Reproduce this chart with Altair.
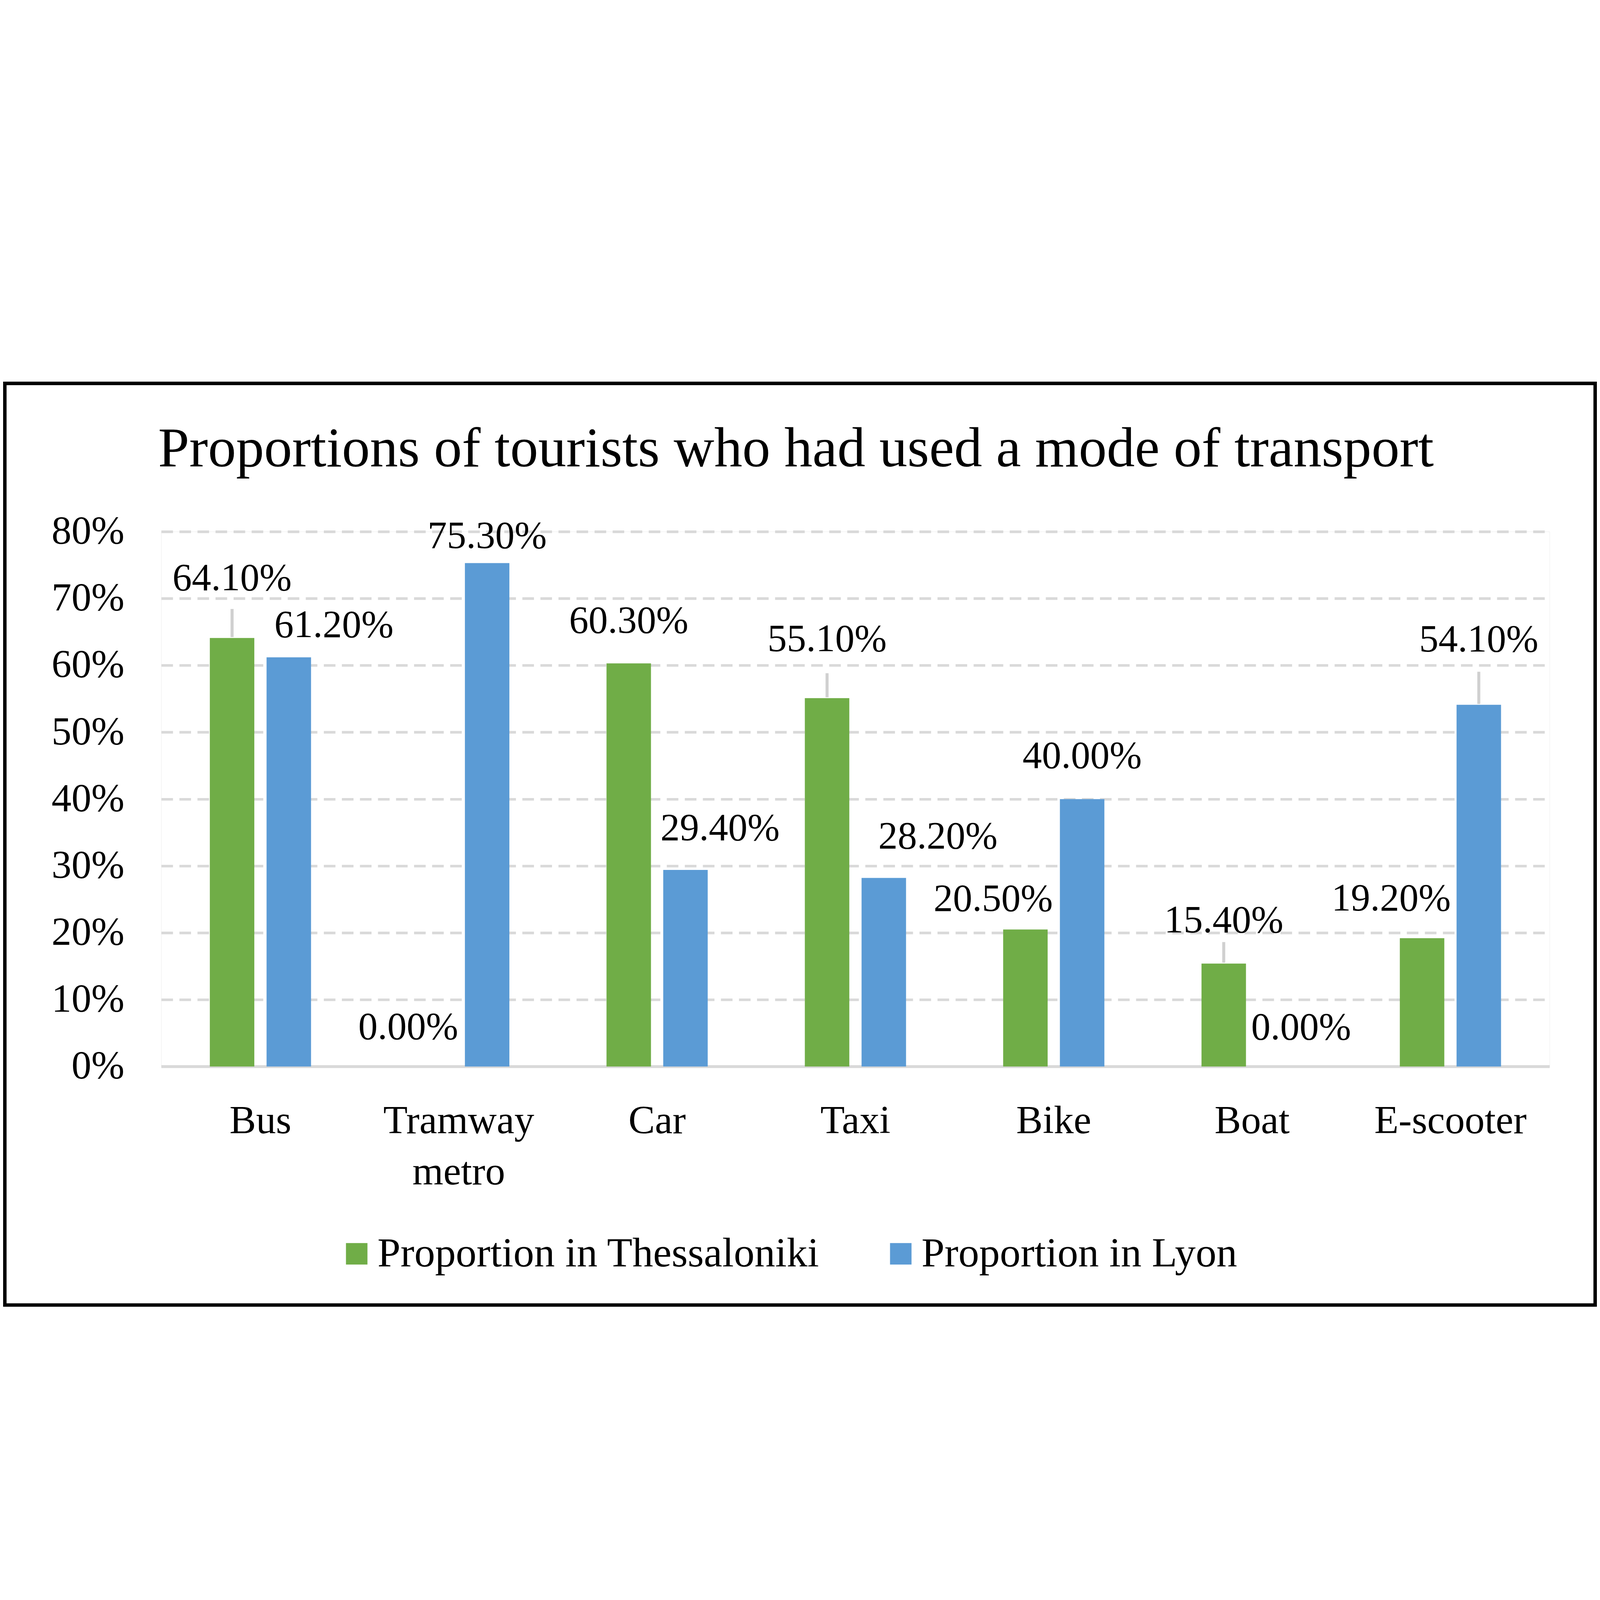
"""
Grouped bar chart: proportions of tourists who had used each
mode of transport, Thessaloniki vs Lyon.
"""
import pandas as pd
import altair as alt

modes = ["Bus", "Tramway metro", "Car", "Taxi", "Bike", "Boat", "E-scooter"]
series = ["Proportion in Thessaloniki", "Proportion in Lyon"]
thessaloniki = [0.641, 0.000, 0.603, 0.551, 0.205, 0.154, 0.192]
lyon = [0.612, 0.753, 0.294, 0.282, 0.400, 0.000, 0.541]
colors = ["#70AD47", "#5B9BD5"]

# label nudges in px (the labels were dragged by hand in the original),
# first row Thessaloniki, second row Lyon
label_dx = [[0, -103, 0, 0, -150, 0, -144], [210, 0, 161, 252, 0, 96, 0]]
label_dy = [[-276, -181, -197, -273, -141, -198, -183],
            [-148, -124, -192, -192, -198, -180, -301]]
# grey leader lines from bar top towards the moved label (0 = none)
leader_len = [[135, 0, 0, 116, 0, 100, 0], [0, 0, 0, 0, 0, 0, 154]]

FONT = "Liberation Serif"
W, H = 6461, 2489
PAD = {"left": 736, "top": 698, "right": 220, "bottom": 1121}

rows = []
for s, vals in zip(series, [thessaloniki, lyon]):
    for m, v in zip(modes, vals):
        rows.append({"mode": m, "series": s, "value": v})
df = pd.DataFrame(rows)

x_enc = alt.X("mode:N", sort=modes, title=None,
              scale=alt.Scale(paddingInner=0, paddingOuter=0),
              axis=alt.Axis(labelAngle=0, labelFont=FONT, labelFontSize=185,
                            labelColor="black", labelPadding=164,
                            labelLineHeight=238, labelLimit=3000, ticks=False,
                            domainColor="#d9d9d9", domainWidth=14,
                            labelExpr="split(datum.value, ' ')"))
xo_enc = alt.XOffset("series:N", sort=series,
                     scale=alt.Scale(domain=series, paddingInner=0.216,
                                     paddingOuter=0.856))
y_enc = alt.Y("value:Q", title=None,
              scale=alt.Scale(domain=[0, 0.8], nice=False),
              axis=alt.Axis(format=".0%", values=[i / 10 for i in range(9)],
                            labelFont=FONT, labelFontSize=185,
                            labelColor="black", labelPadding=172,
                            labelLimit=3000, ticks=False, domain=False,
                            gridColor="#d9d9d9", gridWidth=12,
                            gridDash=[54, 30]))

bars = alt.Chart(df).mark_bar().encode(
    x=x_enc,
    xOffset=xo_enc,
    y=y_enc,
    color=alt.Color("series:N", sort=series,
                    scale=alt.Scale(domain=series, range=colors),
                    legend=alt.Legend(title=None, orient="none",
                                      direction="horizontal", columns=2,
                                      legendX=813, legendY=3264,
                                      symbolType="square", symbolSize=10000,
                                      symbolStrokeWidth=0, labelFont=FONT,
                                      labelFontSize=193, labelColor="black",
                                      labelOffset=0, columnPadding=280,
                                      labelLimit=4000)),
)

layers = [bars]
for si, s in enumerate(series):
    for mi, m in enumerate(modes):
        one = df[(df["series"] == s) & (df["mode"] == m)]
        layers.append(
            alt.Chart(one).mark_text(
                font=FONT, fontSize=180, color="black", baseline="middle",
                dx=label_dx[si][mi], dy=label_dy[si][mi],
            ).encode(
                x=alt.X("mode:N", sort=modes),
                xOffset=alt.XOffset("series:N", sort=series),
                y=alt.Y("value:Q"),
                text=alt.Text("value:Q", format=".2%"),
            )
        )
        if leader_len[si][mi]:
            layers.append(
                alt.Chart(one).mark_rule(
                    color="#d0d0d0", strokeWidth=14,
                    yOffset=-4, y2Offset=-leader_len[si][mi],
                ).encode(
                    x=alt.X("mode:N", sort=modes),
                    xOffset=alt.XOffset("series:N", sort=series),
                    y=alt.Y("value:Q"),
                    y2=alt.Y2("value"),
                )
            )

# black frame around the whole figure
frame = alt.Chart(pd.DataFrame({"f": [0]})).mark_rect(
    filled=False, stroke="black", strokeWidth=16, clip=False
).encode(
    x=alt.value(16 - 744), x2=alt.value(7417 - 744),
    y=alt.value(16 - 706), y2=alt.value(4305 - 706),
)
layers.append(frame)

chart = alt.layer(*layers).properties(
    width=W,
    height=H,
    autosize=alt.AutoSizeParams(type="none"),
    padding=PAD,
    title=alt.TitleParams(
        text="Proportions of tourists who had used a mode of transport",
        font=FONT, fontSize=261, fontWeight="normal", color="black",
        anchor="middle", frame="group", dx=-277, offset=-450,
    ),
).configure_view(
    stroke=None
).configure(
    background="white"
)

chart.save("out.html", embed_options={"renderer": "svg", "actions": False})
